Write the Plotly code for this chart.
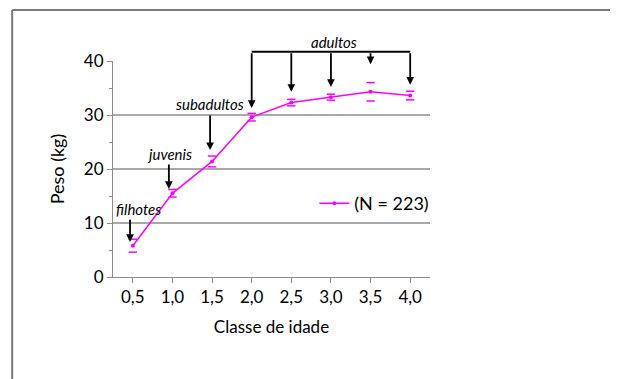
import plotly.graph_objects as go

# ---- data ----
classes = ["0,5", "1,0", "1,5", "2,0", "2,5", "3,0", "3,5", "4,0"]
peso = [5.8, 15.5, 21.4, 29.6, 32.3, 33.3, 34.3, 33.6]
erro = [1.2, 0.7, 1.0, 0.7, 0.6, 0.55, 1.7, 0.8]
y_ticks = [0, 10, 20, 30, 40]
grid_vals = [10, 20, 30]
series_name = "(N = 223)"

MAG = "#FF00FF"
FONT = "Lato"

xs = list(range(len(classes)))
fig = go.Figure()
fig.add_trace(go.Scatter(
    x=xs, y=peso, name=series_name, mode="lines+markers",
    line=dict(color=MAG, width=1.5), marker=dict(color=MAG, size=4),
))
# error caps (caps only, as in the reference)
cap_x = xs + xs
cap_y = [p + e for p, e in zip(peso, erro)] + [p - e for p, e in zip(peso, erro)]
fig.add_trace(go.Scatter(
    x=cap_x, y=cap_y, mode="markers", showlegend=False, hoverinfo="skip",
    marker=dict(symbol="line-ew", size=6, line=dict(color=MAG, width=1.5)),
))

# gridlines
shapes = []
for g in grid_vals:
    shapes.append(dict(type="line", xref="paper", yref="y", x0=0, x1=1, y0=g, y1=g,
                       line=dict(color="#8c8c8c", width=1.5), layer="below"))

# outer frame (left and top gray border)
shapes.append(dict(type="line", xref="paper", yref="paper", x0=-0.318, x1=-0.318,
                   y0=1.236, y1=-0.6, line=dict(color="#7a7a7a", width=2)))
shapes.append(dict(type="line", xref="paper", yref="paper", x0=-0.318, x1=1.7,
                   y0=1.236, y1=1.236, line=dict(color="#7a7a7a", width=2)))

# adult bracket horizontal line
BR_Y = 41.7
shapes.append(dict(type="line", xref="x", yref="paper", x0=3, x1=7,
                   y0=BR_Y / 40, y1=BR_Y / 40, line=dict(color="black", width=2)))

annotations = []

def arrow(x, y_tail, y_head):
    annotations.append(dict(x=x, y=y_head, ax=x, ay=y_tail, xref="x", yref="y",
                            axref="x", ayref="y", showarrow=True, arrowhead=2,
                            arrowsize=0.85, arrowwidth=1.8, arrowcolor="black",
                            text="", standoff=0))

def label(x, y, txt, yref="y"):
    annotations.append(dict(x=x, y=y, xref="x", yref=yref, text="<i>%s</i>" % txt,
                            xanchor="center", yanchor="middle",
                            showarrow=False, font=dict(family=FONT, size=15, color="black")))

label(0.15, 12.6, "filhotes")
arrow(-0.07, 10.9, 6.5)
label(0.93, 22.8, "juvenis")
arrow(0.91, 21.1, 16.3)
label(1.94, 32.0, "subadultos")
arrow(1.95, 30.2, 23.5)
label(5.08, 43.5 / 40, "adultos", yref="paper")
for xi, yh in [(3, 31.3), (4, 34.3), (5, 35.2), (6, 39.4), (7, 35.6)]:
    arrow(xi, BR_Y, yh)

fig.update_layout(
    width=610, height=371,
    margin=dict(l=105, r=188, t=53, b=102),
    paper_bgcolor="white", plot_bgcolor="white",
    font=dict(family=FONT, size=16, color="black"),
    showlegend=True,
    legend=dict(x=0.635, y=0.34, xanchor="left", yanchor="middle",
                font=dict(family=FONT, size=18, color="black"),
                bgcolor="rgba(0,0,0,0)", itemwidth=30),
    shapes=shapes, annotations=annotations,
    xaxis=dict(range=[-0.5, 7.5], tickvals=xs, ticktext=classes, automargin=False,
               showgrid=False, zeroline=False, showline=True, linecolor="#8c8c8c",
               linewidth=1, ticks="outside", ticklen=5, tickcolor="#8c8c8c",
               tickfont=dict(family=FONT, size=17), tickson="boundaries",
               title=dict(text="Classe de idade", font=dict(family=FONT, size=17), standoff=14)),
    yaxis=dict(range=[0, 40], tickvals=y_ticks, showgrid=False, zeroline=False,
               automargin=False,
               showline=True, linecolor="#8c8c8c", linewidth=1, ticks="outside",
               ticklen=5, tickcolor="#8c8c8c", tickfont=dict(family=FONT, size=17),
               minor=dict(ticks="outside", ticklen=3, dtick=5, tickcolor="#8c8c8c"),
               title=dict(text="Peso (kg)", font=dict(family=FONT, size=18), standoff=14)),
)

fig.write_html("out.html")
